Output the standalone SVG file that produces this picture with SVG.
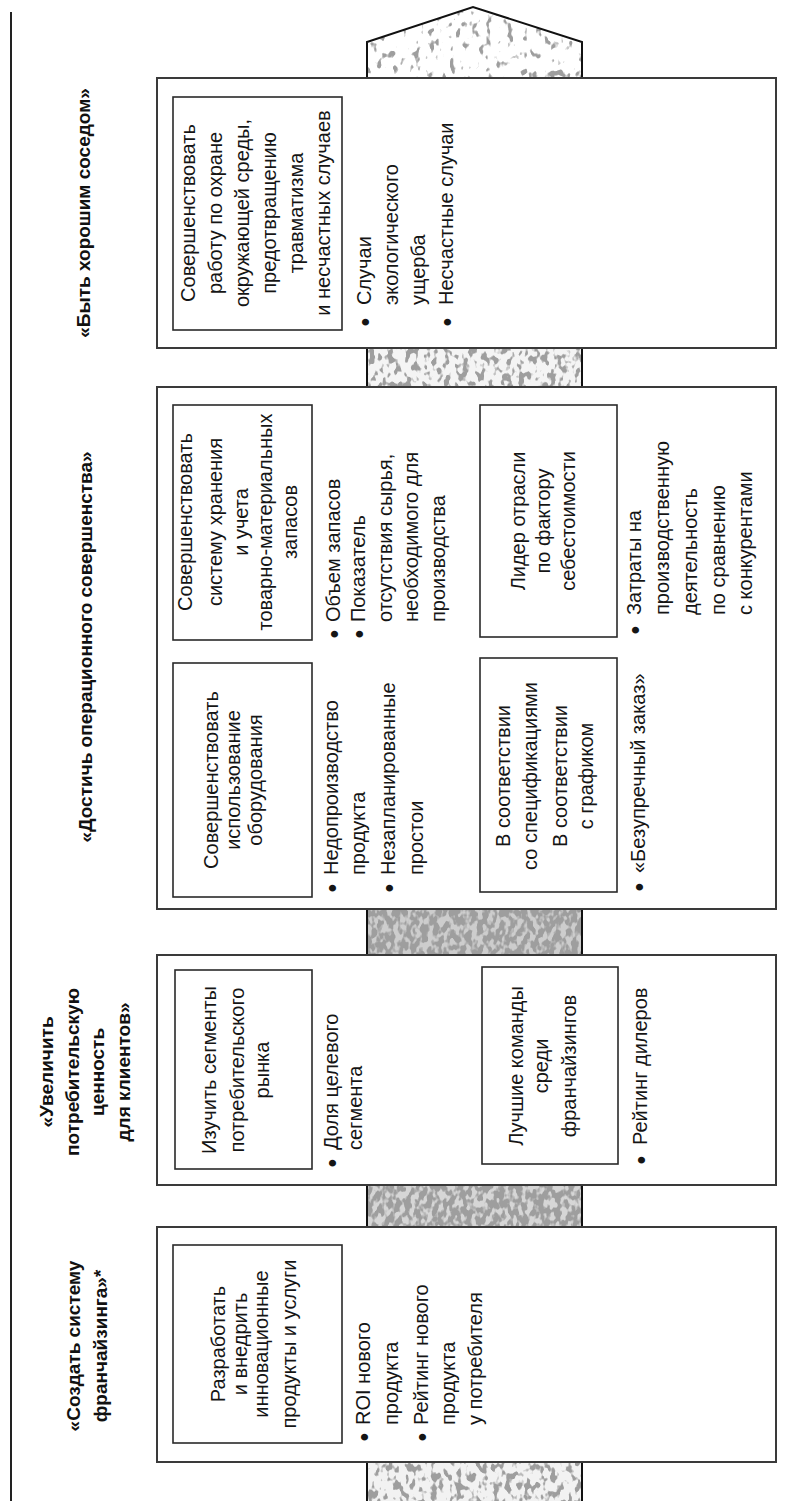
<svg xmlns="http://www.w3.org/2000/svg" width="793" height="1501" viewBox="0 0 793 1501">
<style>
.t{font-family:"Liberation Sans",Arial,sans-serif;font-size:20px;fill:#151515}
.h{font-family:"Liberation Sans",Arial,sans-serif;font-size:19px;font-weight:bold;fill:#111}
.bl{font-size:25px}
.ob{fill:#fff;stroke:#3a3a3a;stroke-width:2}
.ib{fill:none;stroke:#2a2a2a;stroke-width:1.6}
.ps{fill:none;stroke:#111;stroke-width:2}
</style>
<defs>
<filter id="speckL" x="0" y="0" width="1" height="1" color-interpolation-filters="sRGB">
<feTurbulence type="fractalNoise" baseFrequency="0.14 0.1" numOctaves="2" seed="4" result="n"/>
<feColorMatrix in="n" type="matrix" values="0 0 0 0 0.62  0 0 0 0 0.62  0 0 0 0 0.62  10 0 0 0 -6" result="g"/>
<feComposite in="g" in2="SourceAlpha" operator="in" result="gc"/>
<feMerge><feMergeNode in="SourceGraphic"/><feMergeNode in="gc"/></feMerge>
</filter>
<filter id="speckM" x="0" y="0" width="1" height="1" color-interpolation-filters="sRGB">
<feTurbulence type="fractalNoise" baseFrequency="0.16 0.11" numOctaves="2" seed="6" result="n"/>
<feColorMatrix in="n" type="matrix" values="0 0 0 0 0.62  0 0 0 0 0.62  0 0 0 0 0.62  9 0 0 0 -4.6" result="g"/>
<feComposite in="g" in2="SourceAlpha" operator="in" result="gc"/>
<feMerge><feMergeNode in="SourceGraphic"/><feMergeNode in="gc"/></feMerge>
</filter>
<filter id="speckD" x="0" y="0" width="1" height="1" color-interpolation-filters="sRGB">
<feTurbulence type="fractalNoise" baseFrequency="0.18 0.12" numOctaves="2" seed="9" result="n"/>
<feColorMatrix in="n" type="matrix" values="0 0 0 0 0.62  0 0 0 0 0.62  0 0 0 0 0.62  7 0 0 0 -2.8" result="g"/>
<feComposite in="g" in2="SourceAlpha" operator="in" result="gc"/>
<feMerge><feMergeNode in="SourceGraphic"/><feMergeNode in="gc"/></feMerge>
</filter>
</defs>
<rect width="793" height="1501" fill="#fff"/>
<line x1="11" y1="12" x2="11" y2="1501" stroke="#222" stroke-width="2"/>

<g id="pillar">
<path d="M367,80 V42 L473,7 L582,42 V80 Z" fill="#fff" filter="url(#speckL)"/>
<rect x="367" y="346" width="215" height="43" fill="#f4f4f4" filter="url(#speckM)"/>
<rect x="367" y="907" width="215" height="50" fill="#cdcdcd" filter="url(#speckD)"/>
<rect x="367" y="1183" width="215" height="46" fill="#d6d6d6" filter="url(#speckD)"/>
<rect x="367" y="1460" width="215" height="41" fill="#f2f2f2" filter="url(#speckM)"/>
<path class="ps" d="M367,80 V42 L473,7 L582,42 V80"/>
<path class="ps" d="M367,346 V389 M582,346 V389 M367,907 V957 M582,907 V957 M367,1183 V1229 M582,1183 V1229 M367,1460 V1501 M582,1460 V1501"/>
</g>

<g id="n1">
<rect class="ob" x="157" y="78" width="619" height="270"/>
<rect class="ib" x="173" y="97" width="169" height="233"/>
<text class="h" text-anchor="middle" transform="translate(0,213) rotate(-90)"><tspan x="0" y="90">«Быть хорошим соседом»</tspan></text>
<text class="t" text-anchor="middle" transform="translate(0,213) rotate(-90)">
<tspan x="0" y="195">Совершенствовать</tspan><tspan x="0" y="222">работу по охране</tspan><tspan x="0" y="249">окружающей среды,</tspan><tspan x="0" y="276">предотвращению</tspan><tspan x="0" y="303">травматизма</tspan><tspan x="0" y="330">и несчастных случаев</tspan></text>
<text class="t" transform="translate(0,305) rotate(-90)"><tspan class="bl" x="-21.4" y="374">•</tspan><tspan x="0" y="371">Случаи</tspan><tspan x="0" y="398">экологического</tspan><tspan x="0" y="425">ущерба</tspan></text>
<text class="t" transform="translate(0,305) rotate(-90)"><tspan class="bl" x="-21.4" y="456">•</tspan><tspan x="0" y="453">Несчастные случаи</tspan></text>
</g>

<g id="n2">
<rect class="ob" x="157" y="387" width="619" height="522"/>
<rect class="ib" x="173" y="405" width="139" height="235"/>
<rect class="ib" x="480" y="405" width="137" height="232"/>
<rect class="ib" x="173" y="663" width="139" height="234"/>
<rect class="ib" x="480" y="658" width="137" height="234"/>
<text class="h" text-anchor="middle" transform="translate(0,647) rotate(-90)"><tspan x="0" y="92">«Достичь операционного совершенства»</tspan></text>
<text class="t" text-anchor="middle" transform="translate(0,522) rotate(-90)"><tspan x="0" y="192">Совершенствовать</tspan><tspan x="0" y="222">систему хранения</tspan><tspan x="0" y="248">и учета</tspan><tspan x="0" y="272">товарно-материальных</tspan><tspan x="0" y="297">запасов</tspan></text>
<text class="t" transform="translate(0,622) rotate(-90)"><tspan class="bl" x="-16.4" y="343">•</tspan><tspan x="0" y="340">Объем запасов</tspan></text>
<text class="t" transform="translate(0,622) rotate(-90)"><tspan class="bl" x="-16.4" y="368">•</tspan><tspan x="0" y="365">Показатель</tspan><tspan x="0" y="392">отсутствия сырья,</tspan><tspan x="0" y="418">необходимого для</tspan><tspan x="0" y="445">производства</tspan></text>
<text class="t" text-anchor="middle" transform="translate(0,521) rotate(-90)"><tspan x="0" y="525">Лидер отрасли</tspan><tspan x="0" y="550">по фактору</tspan><tspan x="0" y="575">себестоимости</tspan></text>
<text class="t" transform="translate(0,615) rotate(-90)"><tspan class="bl" x="-19.4" y="644">•</tspan><tspan x="0" y="641">Затраты на</tspan><tspan x="0" y="669">производственную</tspan><tspan x="0" y="697">деятельность</tspan><tspan x="0" y="725">по сравнению</tspan><tspan x="0" y="752">с конкурентами</tspan></text>
<text class="t" text-anchor="middle" transform="translate(0,780) rotate(-90)"><tspan x="0" y="218">Совершенствовать</tspan><tspan x="0" y="240">использование</tspan><tspan x="0" y="262">оборудования</tspan></text>
<text class="t" transform="translate(0,875) rotate(-90)"><tspan class="bl" x="-17.4" y="341">•</tspan><tspan x="0" y="338">Недопроизводство</tspan><tspan x="0" y="365">продукта</tspan></text>
<text class="t" transform="translate(0,875) rotate(-90)"><tspan class="bl" x="-17.4" y="398">•</tspan><tspan x="0" y="395">Незапланированные</tspan><tspan x="0" y="423">простои</tspan></text>
<text class="t" text-anchor="middle" transform="translate(0,776) rotate(-90)"><tspan x="0" y="510">В соответствии</tspan><tspan x="0" y="537">со спецификациями</tspan><tspan x="0" y="567">В соответствии</tspan><tspan x="0" y="593">с графиком</tspan></text>
<text class="t" transform="translate(0,873) rotate(-90)"><tspan class="bl" x="-18.4" y="648">•</tspan><tspan x="0" y="645">«Безупречный заказ»</tspan></text>
</g>

<g id="n3">
<rect class="ob" x="157" y="955" width="619" height="230"/>
<rect class="ib" x="175" y="970" width="137" height="199"/>
<rect class="ib" x="482" y="967" width="136" height="197"/>
<text class="h" text-anchor="middle" transform="translate(0,1072) rotate(-90)"><tspan x="0" y="53">«Увеличить</tspan><tspan x="0" y="79">потребительскую</tspan><tspan x="0" y="104">ценность</tspan><tspan x="0" y="130">для клиентов»</tspan></text>
<text class="t" text-anchor="middle" transform="translate(0,1070) rotate(-90)"><tspan x="0" y="216">Изучить сегменты</tspan><tspan x="0" y="244">потребительского</tspan><tspan x="0" y="269">рынка</tspan></text>
<text class="t" transform="translate(0,1150) rotate(-90)"><tspan class="bl" x="-17.4" y="341">•</tspan><tspan x="0" y="338">Доля целевого</tspan><tspan x="0" y="362">сегмента</tspan></text>
<text class="t" text-anchor="middle" transform="translate(0,1066) rotate(-90)"><tspan x="0" y="523">Лучшие команды</tspan><tspan x="0" y="548">среди</tspan><tspan x="0" y="576">франчайзингов</tspan></text>
<text class="t" transform="translate(0,1145) rotate(-90)"><tspan class="bl" x="-19.4" y="650">•</tspan><tspan x="0" y="647">Рейтинг дилеров</tspan></text>
</g>

<g id="n4">
<rect class="ob" x="157" y="1227" width="619" height="235"/>
<rect class="ib" x="173" y="1245" width="169" height="198"/>
<text class="h" text-anchor="middle" transform="translate(0,1346) rotate(-90)"><tspan x="0" y="80">«Создать систему</tspan><tspan x="0" y="107">франчайзинга»*</tspan></text>
<text class="t" text-anchor="middle" transform="translate(0,1344) rotate(-90)"><tspan x="0" y="225">Разработать</tspan><tspan x="0" y="247">и внедрить</tspan><tspan x="0" y="268">инновационные</tspan><tspan x="0" y="296">продукты и услуги</tspan></text>
<text class="t" transform="translate(0,1425) rotate(-90)"><tspan class="bl" x="-16.4" y="373">•</tspan><tspan x="0" y="370">ROI нового</tspan><tspan x="0" y="398">продукта</tspan></text>
<text class="t" transform="translate(0,1425) rotate(-90)"><tspan class="bl" x="-16.4" y="431">•</tspan><tspan x="0" y="428">Рейтинг нового</tspan><tspan x="0" y="455">продукта</tspan><tspan x="0" y="482">у потребителя</tspan></text>
</g>
</svg>
